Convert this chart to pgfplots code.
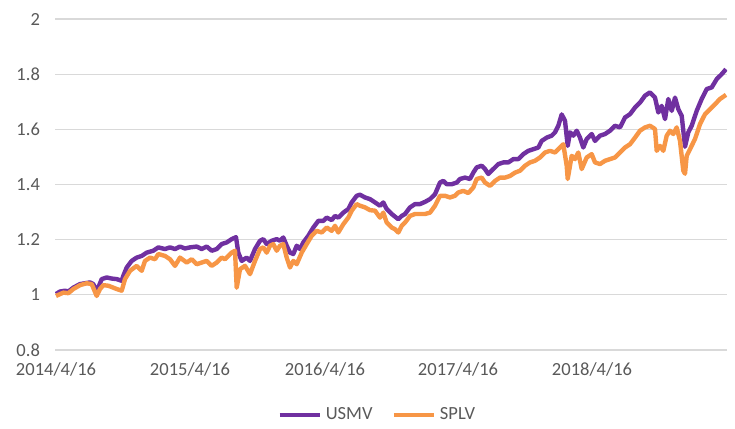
\documentclass[border=0pt]{standalone}
\usepackage{pgfplots}
\pgfplotsset{compat=1.18}
\usepackage{fontspec}
\setmainfont{Carlito}
\definecolor{usmv}{HTML}{7030A0}
\definecolor{splv}{HTML}{F79646}
\definecolor{gridc}{HTML}{D9D9D9}
\definecolor{txt}{HTML}{595959}
\begin{document}
\begin{tikzpicture}
\useasboundingbox (-27.5bp,-39.5bp) rectangle (340bp,175bp);
\begin{axis}[
  scale only axis,
  width=336bp, height=165.5bp,
  xmin=0, xmax=672, ymin=0.8, ymax=2,
  axis line style={draw=none},
  tick style={draw=none},
  ymajorgrids, grid style={gridc, line width=0.65bp},
  xtick={1,135,270,403,537},
  xticklabels={2014/4/16,2015/4/16,2016/4/16,2017/4/16,2018/4/16},
  ytick={0.8,1,1.2,1.4,1.6,1.8,2},
  major tick length=0pt,
  tick label style={font=\fontsize{9.3}{11}\selectfont, text=txt},
  /pgf/number format/assume math mode=true,
  xticklabel style={yshift=-3bp},
  yticklabel style={xshift=-4bp},
  legend style={at={(0.481,-0.196)}, anchor=center, draw=none, fill=none,
    font=\fontsize{9.3}{11}\selectfont, text=txt, legend columns=2,
    /tikz/every even column/.append style={column sep=7.5bp},
    inner sep=0pt},
  legend cell align=left,
  legend image code/.code={\draw[#1, line width=2.2bp] (0bp,0bp) -- (20bp,0bp);},
]
\addplot[usmv, line width=2.2bp, line join=round] coordinates {
(1,1.003)(5,1.012)(10,1.015)(13.3,1.012)(18.3,1.026)(25,1.039)(30,1.042)(35,1.045)(38.3,1.039)(41.7,1.015)(43.3,1.026)(46.7,1.057)(51.7,1.063)(56.7,1.059)(61.7,1.057)(66.7,1.051)(68.3,1.069)(71.7,1.099)(76.7,1.123)(81.7,1.135)(86.7,1.141)(91.7,1.153)(98.3,1.160)(103.3,1.172)(110,1.166)(115,1.172)(120,1.166)(125,1.175)(130,1.168)(135,1.172)(141.7,1.175)(146.7,1.166)(151.7,1.175)(156.7,1.160)(161.7,1.166)(166.7,1.184)
(171.7,1.190)(176.7,1.202)(181,1.209)(183.3,1.153)(186.7,1.123)(191.7,1.135)(195,1.123)(200,1.166)(205,1.196)(208.3,1.202)(211.7,1.184)(216.7,1.196)(221.7,1.202)(225,1.196)(228.3,1.208)(231.7,1.178)(235,1.153)(238.3,1.148)(241.7,1.178)(245,1.166)(248.3,1.190)(253.3,1.214)(258.3,1.244)(263.3,1.268)(268.3,1.268)(271.7,1.280)(276.7,1.271)(280,1.286)(283.3,1.280)(288.3,1.298)(293.3,1.311)(296.7,1.335)(301.7,1.359)(305,1.363)(310,1.353)(315,1.347)(320,1.335)(325,1.323)(328.3,1.335)(331.7,1.311)(336.7,1.293)
(343.3,1.274)(346.7,1.286)(350,1.293)(355,1.317)(360,1.329)(365,1.329)(370,1.337)(375,1.347)(380,1.365)(385,1.407)(388.3,1.413)(391.7,1.401)(396.7,1.401)(401.7,1.407)(405,1.420)(410,1.425)(415,1.420)(418.3,1.443)(421.7,1.462)(426.7,1.468)(430,1.456)(433.3,1.438)(438.3,1.456)(443.3,1.474)(448.3,1.480)(453.3,1.480)(458.3,1.492)(463.3,1.492)(468.3,1.510)(473.3,1.522)(478.3,1.528)(483.3,1.534)(486.7,1.558)(491.7,1.570)(496.7,1.577)(500,1.589)(503.3,1.613)
(506.7,1.654)(510,1.631)(512.7,1.540)(515,1.589)(518.3,1.577)(521.7,1.595)(525,1.570)(528.3,1.534)(531.7,1.565)(536.7,1.583)(540,1.558)(545,1.577)(550,1.583)(555,1.595)(560,1.613)(565,1.607)(570,1.643)(575,1.655)(580,1.679)(585,1.697)(590,1.722)(595,1.734)(600,1.715)(603.3,1.661)(606.7,1.685)(610,1.637)(613.3,1.710)(616.7,1.667)(620,1.715)(623.3,1.673)(626.7,1.649)(630,1.537)(633.3,1.589)(636.7,1.613)(641.7,1.667)(646.7,1.710)(651.7,1.746)(656.7,1.752)(661.7,1.782)(666.7,1.800)(671,1.818)
};
\addlegendentry{USMV}
\addplot[splv, line width=2.2bp, line join=round] coordinates {
(1,0.996)(8.3,1.008)(13.3,1.006)(18.3,1.021)(25,1.035)(31.7,1.042)(36.7,1.039)(41.7,0.996)(45,1.021)(48.3,1.035)(53.3,1.033)(58.3,1.026)(61.7,1.021)(66.7,1.015)(70,1.057)(75,1.087)(81.7,1.105)(86.7,1.087)(90,1.123)(95,1.135)(100,1.129)(103.3,1.148)(110,1.141)(115,1.129)(120,1.105)(125,1.135)(131.7,1.117)(136.7,1.129)(141.7,1.111)(146.7,1.117)(151.7,1.123)(156.7,1.105)(161.7,1.117)(166.7,1.135)
(170,1.129)(176.7,1.153)(180,1.160)(181.7,1.026)(185,1.093)(190,1.105)(195,1.075)(200,1.123)(205,1.166)(208.3,1.172)(211.7,1.153)(215,1.178)(218.3,1.184)(221.7,1.160)(225,1.178)(228.3,1.184)(231.7,1.135)(235,1.099)(238.3,1.123)(241.7,1.111)(246.7,1.153)(251.7,1.184)(256.7,1.214)(261.7,1.232)(266.7,1.226)(271.7,1.244)(276.7,1.232)(280,1.250)(283.3,1.226)(288.3,1.256)(293.3,1.280)(296.7,1.305)(301.7,1.329)(305,1.323)(310,1.317)(315,1.307)(320,1.305)(325,1.280)(328.3,1.298)(331.7,1.262)(336.7,1.244)
(340,1.238)(343.3,1.226)(346.7,1.250)(350,1.262)(355,1.286)(360,1.293)(370,1.293)(375,1.298)(380,1.323)(385,1.359)(390,1.359)(395,1.353)(400,1.359)(403.3,1.371)(408.3,1.377)(413.3,1.369)(418.3,1.389)(421.7,1.420)(426.7,1.425)(430,1.407)(435,1.395)(440,1.413)(445,1.425)(450,1.425)(455,1.431)(460,1.443)(465,1.450)(470,1.468)(475,1.480)(480,1.486)(485,1.498)(490,1.516)(495,1.522)(500,1.516)(505,1.534)
(508.3,1.546)(511.7,1.468)(512.7,1.420)(516.7,1.504)(520,1.492)(523.3,1.516)(526.7,1.456)(531.7,1.498)(536.7,1.510)(540,1.480)(545,1.474)(550,1.486)(555,1.492)(560,1.498)(565,1.516)(570,1.534)(575,1.546)(580,1.570)(585,1.595)(590,1.607)(595,1.613)(600,1.601)(601.7,1.522)(605,1.540)(608.3,1.522)(611.7,1.577)(615,1.595)(618.3,1.583)(621.7,1.607)(625,1.558)(628.3,1.450)(630,1.439)(631.7,1.504)(635,1.528)(640,1.565)(645,1.619)(650,1.655)(655,1.673)(660,1.691)(665,1.710)(671,1.725)
};
\addlegendentry{SPLV}
\end{axis}
\end{tikzpicture}
\end{document}
